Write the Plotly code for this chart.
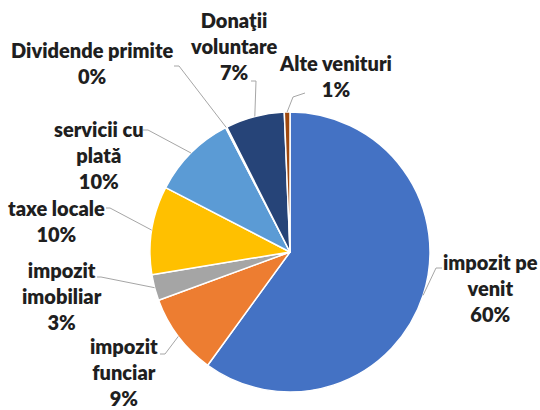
import math
import plotly.graph_objects as go

W, H = 540, 410

categories = ["impozit pe venit", "impozit funciar", "impozit imobiliar", "taxe locale",
              "servicii cu plată", "Dividende primite", "Donaţii voluntare", "Alte venituri"]
label_lines = [["impozit pe", "venit"], ["impozit", "funciar"], ["impozit", "imobiliar"],
               ["taxe locale"], ["servicii cu", "plată"], ["Dividende primite"],
               ["Donaţii", "voluntare"], ["Alte venituri"]]
values = [60.0, 9.4, 3.0, 10.2, 9.8, 0.15, 6.8, 0.65]
colors = ["#4472C4", "#ED7D31", "#A5A5A5", "#FFC000", "#5B9BD5", "#70AD47", "#264478", "#9E480E"]

# layout: pie centre / radius in pixels, label block centres, leader-line elbows
CX, CY, R = 290, 252, 140
label_pos = [(490, 288), (124, 372), (62, 296), (56, 221), (99, 155), (92, 63), (233, 46), (335, 76)]
elbows = [[(436, 268), (442, 268)], [(165, 354), (160, 354)], [(101, 277), (97, 277)],
          [(110, 208), (106, 208)], [(148, 130), (143, 130)], [(179, 66), (174, 66)],
          [(256, 81), (251, 81)], [(293, 97), (305, 93)]]

total = sum(values)
fig = go.Figure()
fig.add_trace(go.Pie(
    labels=categories, values=values, sort=False, direction="clockwise", rotation=0,
    marker=dict(colors=colors, line=dict(color="white", width=1.5)),
    textinfo="none", hoverinfo="label+percent", showlegend=False,
    domain=dict(x=[(CX - R) / W, (CX + R) / W], y=[1 - (CY + R) / H, 1 - (CY - R) / H]),
))

font = dict(family="Lato", size=20, color="#1f1f1f", weight=800)
annotations = []
shapes = []
cum = 0.0
for i, v in enumerate(values):
    pct = round(v / total * 100)
    text = "<br>".join(label_lines[i] + [f"{pct}%"])
    lx, ly = label_pos[i]
    annotations.append(dict(x=lx, y=ly, xref="x", yref="y", text=text, showarrow=False,
                            xanchor="center", yanchor="middle", align="center", font=font))
    mid = (cum + v / 2) / total * 2 * math.pi
    cum += v
    sx, sy = CX + R * math.sin(mid), CY - R * math.cos(mid)
    pts = [(sx, sy)] + elbows[i]
    path = "M " + " L ".join(f"{x:.1f},{y:.1f}" for x, y in pts)
    shapes.append(dict(type="path", path=path, xref="x", yref="y",
                       line=dict(color="#A6A6A6", width=1)))

fig.update_layout(
    width=W, height=H, margin=dict(l=0, r=0, t=0, b=0),
    paper_bgcolor="white", plot_bgcolor="rgba(0,0,0,0)",
    xaxis=dict(range=[0, W], visible=False, fixedrange=True),
    yaxis=dict(range=[H, 0], visible=False, fixedrange=True),
    annotations=annotations, shapes=shapes,
)
fig.write_html("out.html", config={"displayModeBar": False},
               post_script="document.body.style.margin='0';")
